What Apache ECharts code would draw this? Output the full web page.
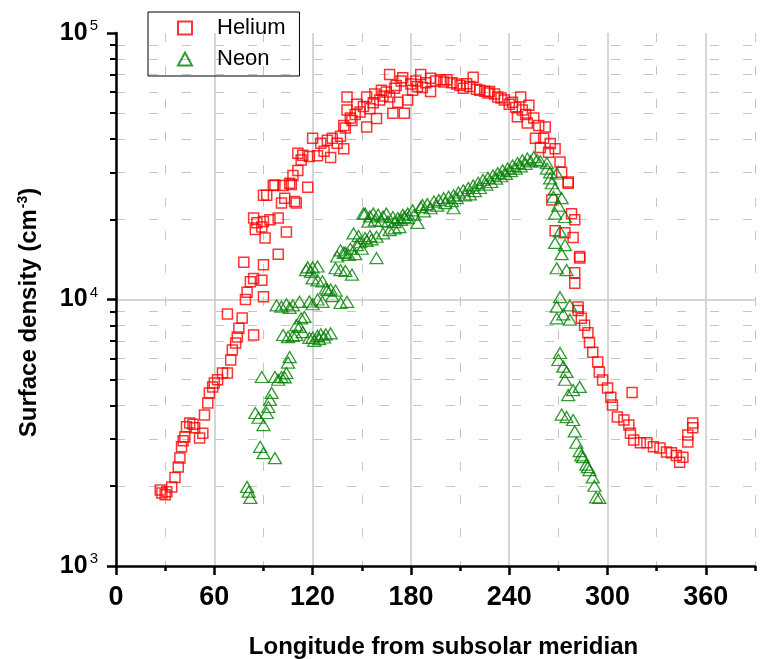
<!DOCTYPE html>
<html>
<head>
<meta charset="utf-8">
<title>Surface density</title>
<script src="https://cdn.jsdelivr.net/npm/echarts@6/dist/echarts.min.js"></script>
<style>
  html, body { margin: 0; padding: 0; background: #fff; }
  #chart { width: 760px; height: 659px; }
</style>
</head>
<body>
<div id="chart"></div>
<script>
// longitude from subsolar meridian (deg) / surface density (cm^-3)
const heliumLon = [27, 28, 30, 31, 34, 36, 38, 39, 40, 41, 42, 43, 45, 47, 48, 51, 53, 54, 56, 57,
  59, 60, 62, 65, 68, 70, 71, 73, 74, 75, 77, 68, 84, 79, 80, 82, 84, 89, 90, 78,
  90, 99, 84, 85, 86, 89, 90, 91, 94, 99, 104, 90, 92, 96, 97, 101, 102, 103, 106, 107,
  109, 110, 108, 111, 113, 111, 114, 117, 118, 120, 123, 125, 127, 129, 131, 132, 135, 137, 139, 139,
  140, 141, 141, 143, 146, 149, 153, 153, 155, 157, 159, 161, 163, 165, 167, 167, 169, 170, 172, 174,
  175, 176, 178, 180, 181, 184, 186, 189, 192, 192, 195, 198, 202, 205, 208, 210, 212, 216, 218, 220,
  222, 225, 228, 231, 233, 237, 240, 242, 245, 247, 248, 251, 252, 255, 256, 258, 259, 261, 262, 264,
  265, 266, 268, 268, 271, 272, 274, 276, 276, 278, 279, 280, 280, 283, 283, 280, 282, 282, 284, 286,
  288, 289, 291, 294, 295, 297, 300, 302, 303, 306, 310, 313, 314, 315, 316, 320, 324, 328, 332, 336,
  339, 342, 344, 346, 349, 349, 352, 352,
  144, 147, 151, 158, 162, 171, 183, 187, 200, 214, 227, 235, 244, 250];
const heliumDen = [1930, 1880, 1850, 1900, 1980, 2150, 2350, 2540, 2800, 2950, 3050, 3330, 3440, 3400, 3300, 3020, 3150, 3690, 4090, 4460,
  4700, 4860, 5000, 5300, 5300, 5930, 6470, 6870, 7230, 7800, 8520, 8830, 7360, 10000, 10650, 11650, 12000, 11800, 10250, 13800,
  13500, 14800, 20200, 18300, 19400, 18700, 19600, 17000, 19900, 20200, 17900, 24600, 24600, 26800, 26900, 23000, 26800, 24000, 27300, 27000,
  23300, 23000, 29200, 30500, 33400, 35400, 34800, 26400, 34400, 40300, 34600, 38600, 36000, 39600, 34100, 40300, 38600, 41000, 36800, 45000,
  44000, 51400, 57500, 48000, 49500, 50500, 44400, 57500, 52000, 54700, 47800, 56100, 58000, 60000, 69800, 57500, 50000, 62000, 55000, 66000,
  68000, 50000, 56100, 64300, 61000, 63000, 69800, 65000, 67600, 60300, 66000, 66700, 66700, 65000, 64300, 63500, 62000, 63000, 68300, 61500,
  61000, 60500, 60300, 59000, 57500, 56100, 54000, 55000, 48500, 57500, 51400, 46000, 53600, 48000, 40300, 45000, 37200, 40300, 44400, 35700,
  38500, 23600, 36800, 18100, 32800, 30000, 17800, 27300, 27600, 21000, 17100, 19900, 12600, 14500, 14300, 11500, 9380, 9100, 8500, 8000,
  7500, 6900, 6340, 5830, 5350, 4990, 4650, 4300, 4020, 3620, 3530, 3380, 3150, 4480, 2970, 2900, 2900, 2800, 2770, 2680,
  2660, 2600, 2450, 2560, 2920, 3100, 3300, 3440,
  47000, 54000, 53000, 59000, 61000, 63500, 66000, 62500, 65500, 64500, 59500, 57000, 52500, 49500];

const neonLon = [80, 81, 82, 88, 90, 97, 85, 87, 90, 92, 93, 94, 95, 89, 97, 101, 104, 106, 105, 101,
  98, 106, 104, 102, 105, 108, 110, 112, 114, 115, 113, 118, 120, 123, 125, 128, 131, 110, 118, 120,
  123, 126, 129, 132, 137, 141, 126, 123, 120, 117, 120, 123, 134, 137, 140, 144, 135, 137, 140, 143,
  147, 150, 159, 145, 148, 152, 155, 159, 163, 167, 170, 173, 151, 152, 155, 157, 160, 163, 165, 169,
  172, 175, 176, 178, 181, 184, 186, 187, 190, 194, 197, 200, 203, 206, 206, 209, 212, 215, 216, 218,
  221, 224, 227, 230, 233, 236, 239, 242, 245, 248, 251, 255, 257, 259, 263, 265, 266, 269, 267, 272,
  268, 274, 268, 274, 269, 275, 269, 277, 269, 277, 270, 273, 275, 279, 283, 276, 275, 279, 281, 283,
  285, 287, 289, 291, 293, 295,
  154, 158, 162, 166, 170, 174, 178, 182, 188, 192, 196, 201, 205, 208, 213, 219, 222, 226, 229, 232,
  235, 238, 241, 244, 247, 250, 253, 139, 142, 146, 149, 153, 156, 108, 112, 128, 131, 134, 121, 124,
  127, 116, 119, 103, 99, 263, 265, 268, 270, 271, 272, 271, 273, 271, 274, 272, 280, 284, 288, 292];
const neonDen = [1980, 1900, 1800, 2800, 2650, 2540, 3750, 3600, 3380, 3750, 3950, 4200, 4460, 5120, 5120, 5120, 5300, 6080, 5800, 9400,
  9500, 9300, 9600, 7360, 7230, 7300, 7360, 7900, 7550, 8600, 8500, 7170, 7200, 7300, 7400, 7400, 7460, 8000, 9830, 9600,
  10000, 9800, 10850, 10300, 9700, 9800, 11700, 11800, 12000, 13200, 13200, 13300, 13100, 12900, 12800, 12400, 14500, 15300, 15000, 15500,
  16000, 15500, 14300, 17700, 17300, 17000, 17300, 17200, 17700, 18200, 18500, 18700, 21000, 21000, 20500, 21000, 20800, 20500, 21000, 20400,
  20200, 20800, 20400, 21000, 21600, 19400, 22200, 22600, 22800, 23300, 23600, 24000, 24300, 24600, 22000, 25200, 25700, 26200, 24800, 26800,
  27400, 28100, 28600, 29200, 29800, 30500, 31000, 31800, 32500, 33300, 33800, 34200, 33400, 33000, 32500, 30000, 27300, 29700, 24300, 24000,
  21000, 20400, 16300, 16000, 13100, 12900, 9400, 9500, 8500, 8400, 5930, 5600, 5350, 4570, 4700, 4380, 3620, 3530, 2900, 2700,
  2560, 2400, 2290, 2150, 1810, 1800,
  19600, 19800, 19700, 19600, 19500, 19900, 20200, 20800, 21400, 22000, 22500, 23000, 23400, 24000, 24600, 25500, 26200, 27000, 27600, 28400,
  29000, 29600, 30300, 31000, 31600, 32300, 33000, 15000, 14700, 14800, 16400, 16600, 16800, 9500, 9800, 11000, 10900, 10800, 7000, 7100,
  7200, 12900, 12700, 5100, 5000, 31000, 28500, 26000, 22500, 18000, 14800, 10200, 8800, 6300, 5000, 3700, 3200, 2600, 2350, 2000];

// axis ticks
const xMajorTicks = [0, 60, 120, 180, 240, 300, 360];
const xMinorTicks = [30, 90, 150, 210, 270, 330, 390];
const yMajorTicks = [1000, 10000, 100000];
const yGridTicks = [10000];
const yMinorTicks = [2000, 3000, 4000, 5000, 6000, 7000, 8000, 9000,
  20000, 30000, 40000, 50000, 60000, 70000, 80000, 90000];

const FONT = '"Liberation Sans", Arial, sans-serif';

function zip(xs, ys) {
  return xs.map((x, i) => [x, ys[i]]);
}

const chart = echarts.init(document.getElementById('chart'));

const hiddenAxis = {
  axisLine: { show: false, onZero: false },
  axisLabel: { show: false },
};

const option = {
  animation: false,
  backgroundColor: '#fff',
  textStyle: { fontFamily: FONT },
  grid: { left: 116, top: 33, right: 5, bottom: 93, containLabel: false, outerBoundsMode: 'none' },
  legend: {
    orient: 'vertical',
    left: 148,
    top: 12,
    padding: [5, 14, 6, 29],
    itemGap: 9,
    itemWidth: 14,
    itemHeight: 13,
    borderColor: '#000',
    borderWidth: 1,
    textStyle: { fontSize: 22, color: '#000', fontFamily: FONT, padding: [0, 0, 0, 20] },
    data: ['Helium', 'Neon'],
  },
  xAxis: [
    {
      type: 'value',
      min: 0,
      max: 390,
      position: 'bottom',
      name: 'Longitude from subsolar meridian',
      nameLocation: 'middle',
      nameGap: 69,
      nameTextStyle: { fontSize: 24, fontWeight: 'bold', color: '#000', padding: [0, 0, 0, 16] },
      axisLine: { show: true, onZero: false, lineStyle: { color: '#000', width: 2.5 } },
      axisTick: { show: true, customValues: xMajorTicks, length: 9, lineStyle: { color: '#000', width: 2.5 } },
      axisLabel: { customValues: xMajorTicks, fontSize: 27, fontWeight: 'bold', color: '#000', margin: 18 },
      splitLine: { show: true, lineStyle: { color: '#c8c8c8', width: 1.5 } },
    },
    Object.assign({
      type: 'value',
      min: 0,
      max: 390,
      position: 'bottom',
      axisTick: { show: true, customValues: xMinorTicks, length: 5, lineStyle: { color: '#000', width: 2.5 } },
      splitLine: { show: true, lineStyle: { color: '#c4c4c4', width: 1, type: [9, 24] } },
    }, hiddenAxis),
  ],
  yAxis: [
    {
      type: 'log',
      logBase: 10,
      min: 1000,
      max: 100000,
      position: 'left',
      name: '{a|Surface density (cm}{s|-3}{a|)}',
      nameLocation: 'middle',
      nameGap: 74,
      nameTextStyle: {
        color: '#000',
        padding: [0, 26, 0, 0],
        rich: {
          a: { fontSize: 24, fontWeight: 'bold', color: '#000', fontFamily: FONT },
          s: { fontSize: 14, fontWeight: 'bold', color: '#000', fontFamily: FONT, padding: [0, 0, 12, 1] },
        },
      },
      axisLine: { show: true, onZero: false, lineStyle: { color: '#000', width: 2.5 } },
      axisTick: { show: true, customValues: yMajorTicks, length: 9, lineStyle: { color: '#000', width: 2.5 } },
      axisLabel: {
        customValues: yMajorTicks,
        margin: 18,
        formatter: function (v) {
          return '{b|10}{s|' + Math.round(Math.log10(v)) + '}';
        },
        rich: {
          b: { fontSize: 25, fontWeight: 'bold', color: '#000', fontFamily: FONT },
          s: { fontSize: 15, color: '#000', fontFamily: FONT, padding: [0, 0, 14, 2] },
        },
      },
      splitLine: { show: false },
    },
    Object.assign({
      type: 'log',
      logBase: 10,
      min: 1000,
      max: 100000,
      position: 'left',
      axisTick: { show: true, customValues: yMinorTicks, length: 6, lineStyle: { color: '#000', width: 2 } },
      splitLine: { show: true, lineStyle: { color: '#c4c4c4', width: 1, type: [9, 24] } },
    }, hiddenAxis),
    Object.assign({
      type: 'log',
      logBase: 10,
      min: 1000,
      max: 100000,
      position: 'left',
      axisTick: { show: false, customValues: yGridTicks },
      splitLine: { show: true, lineStyle: { color: '#c8c8c8', width: 1.5 } },
    }, hiddenAxis),
  ],
  series: [
    {
      name: 'Helium',
      type: 'scatter',
      symbol: 'rect',
      symbolSize: 10,
      itemStyle: { color: 'rgba(0,0,0,0)', borderColor: '#ff0000', borderWidth: 1.5 },
      data: zip(heliumLon, heliumDen),
    },
    {
      name: 'Neon',
      type: 'scatter',
      symbol: 'triangle',
      symbolSize: [13, 11],
      itemStyle: { color: 'rgba(0,0,0,0)', borderColor: '#008000', borderWidth: 1.3 },
      data: zip(neonLon, neonDen),
    },
  ],
};

chart.setOption(option);
</script>
</body>
</html>
